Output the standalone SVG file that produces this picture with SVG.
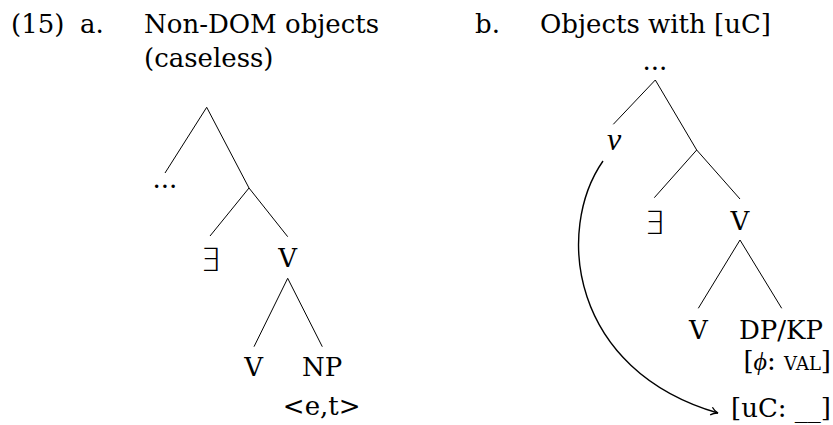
<svg xmlns="http://www.w3.org/2000/svg" width="833" height="425" viewBox="0 0 833 425">
<style>
text{font-family:"DejaVu Serif","Liberation Serif",serif;font-size:26px;fill:#000}
.m{text-anchor:middle}
.r{text-anchor:end}
.ex{font-family:"DejaVu Sans",sans-serif;font-size:32px;font-weight:200}
.it{font-family:"Liberation Serif",serif;font-style:italic;font-size:32px}
.e{stroke:#000;stroke-width:1;fill:none}
.arr{stroke:#000;stroke-width:1.4;fill:none}
</style>
<defs>
<marker id="tip" viewBox="0 0 10 10" refX="9" refY="5" markerWidth="10" markerHeight="10" markerUnits="userSpaceOnUse" orient="auto">
<path d="M2,1 Q5,4 9,5 Q5,6 2,9" fill="none" stroke="#000" stroke-width="1.3"/>
</marker>
</defs>
<g id="headers">
<text x="11" y="33" font-family="Liberation Serif" font-size="28">(15)</text>
<text x="80" y="33">a.</text>
<text x="144" y="33">Non-DOM objects</text>
<text x="144" y="67">(caseless)</text>
<text x="475" y="33">b.</text>
<text x="540" y="33">Objects with [uC]</text>
</g>
<g id="connectors">
<line class="e" x1="206.7" y1="107.3" x2="165" y2="173"/>
<line class="e" x1="206.7" y1="107.3" x2="249" y2="188"/>
<line class="e" x1="249" y1="188" x2="210" y2="236"/>
<line class="e" x1="249" y1="188" x2="287.7" y2="236.7"/>
<line class="e" x1="287.7" y1="278.3" x2="254" y2="346.7"/>
<line class="e" x1="287.7" y1="278.3" x2="322.3" y2="346.7"/>
<line class="e" x1="655.3" y1="80" x2="613.3" y2="124.3"/>
<line class="e" x1="655.3" y1="80" x2="696.7" y2="150"/>
<line class="e" x1="696.7" y1="150" x2="654.3" y2="197.7"/>
<line class="e" x1="696.7" y1="150" x2="740" y2="199"/>
<line class="e" x1="740" y1="240" x2="698.3" y2="308.3"/>
<line class="e" x1="740" y1="240" x2="781.7" y2="308.3"/>
<path class="arr" d="M603,161 C555,230 570,370 718,413" marker-end="url(#tip)"/>
</g>
<g id="a-dots"><text class="m" x="165" y="188">...</text></g>
<g id="a-exists"><text class="m ex" x="210" y="271">∃</text></g>
<g id="a-V1"><text class="m" x="287.7" y="267">V</text></g>
<g id="a-V2"><text class="m" x="253.7" y="376">V</text></g>
<g id="a-NP"><text class="m" x="322" y="376">NP</text><text class="m" x="321.7" y="415">&lt;e,t&gt;</text></g>
<g id="b-dots"><text class="m" x="655" y="70">...</text></g>
<g id="b-v"><text class="m it" x="614" y="150">v</text></g>
<g id="b-exists"><text class="m ex" x="654" y="233.5">∃</text></g>
<g id="b-V1"><text class="m" x="740" y="229.5">V</text></g>
<g id="b-V2"><text class="m" x="698.3" y="339">V</text></g>
<g id="b-DPKP">
<text class="m" x="781" y="339">DP/KP</text>
<text class="r" x="831" y="370">[<tspan font-family="Liberation Serif" font-style="italic">ϕ</tspan>: <tspan style="font-variant:small-caps">val</tspan>]</text>
<text class="r" x="831" y="416.7">[uC: __]</text>
</g>
</svg>
